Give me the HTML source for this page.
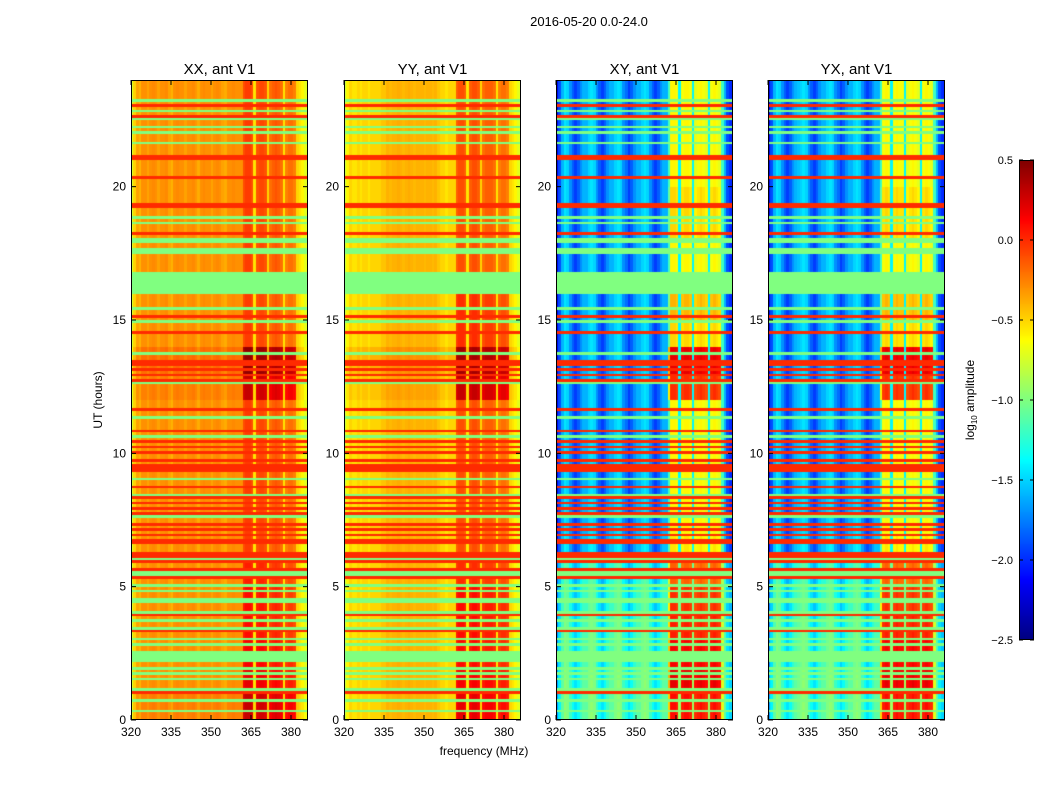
<!DOCTYPE html>
<html><head><meta charset="utf-8"><style>
body{margin:0;background:#fff;width:1050px;height:800px;overflow:hidden;position:relative;font-family:"Liberation Sans",sans-serif}
canvas{position:absolute}
svg{position:absolute;left:0;top:0}
</style></head><body>
<div>
<canvas id="c0" width="177" height="640" style="left:131px;top:80px"></canvas>
<canvas id="c1" width="177" height="640" style="left:344px;top:80px"></canvas>
<canvas id="c2" width="177" height="640" style="left:556px;top:80px"></canvas>
<canvas id="c3" width="177" height="640" style="left:768px;top:80px"></canvas>
<canvas id="cb" width="15" height="480" style="left:1019px;top:160px"></canvas>
<svg id="ov" width="1050" height="800"></svg>
</div>
<script>
const panelTitles=["XX, ant V1","YY, ant V1","XY, ant V1","YX, ant V1"];
const xTicks=[320,335,350,365,380];
const yTicks=[0,5,10,15,20];
const cbTicks=[0.5,0.0,-0.5,-1.0,-1.5,-2.0,-2.5];
const gapFreqs=[366,371,377];
const colXX=[-0.75,-0.5,-0.35,-0.4,-0.3,-0.3,-0.35,-0.3,-0.28,-0.3,-0.35,-0.3,-0.3,-0.28,-0.35,-0.4,-0.3,-0.28,-0.3,-0.3,-0.35,-0.3,-0.3,-0.28,-0.32,-0.38,-0.3,-0.28,-0.3,-0.3,-0.35,-0.3,-0.28,-0.3,-0.35,-0.38,-0.3,-0.3,-0.28,-0.3,-0.3,-0.3,-0.1,-0.05,-0.05,-0.1,-0.55,-0.12,-0.08,-0.08,-0.12,-0.5,-0.2,-0.15,-0.12,-0.15,-0.2,-0.55,-0.25,-0.2,-0.2,-0.25,-0.5,-0.55,-0.6,-0.7,-0.8];
const colYY=[-0.8,-0.6,-0.5,-0.55,-0.55,-0.5,-0.55,-0.5,-0.5,-0.55,-0.5,-0.5,-0.5,-0.5,-0.45,-0.45,-0.4,-0.42,-0.4,-0.4,-0.38,-0.4,-0.42,-0.4,-0.38,-0.4,-0.42,-0.4,-0.4,-0.4,-0.42,-0.4,-0.4,-0.42,-0.4,-0.45,-0.5,-0.5,-0.55,-0.5,-0.5,-0.5,-0.15,-0.1,-0.1,-0.15,-0.55,-0.15,-0.1,-0.1,-0.15,-0.5,-0.2,-0.15,-0.15,-0.15,-0.2,-0.55,-0.25,-0.2,-0.2,-0.25,-0.5,-0.55,-0.6,-0.7,-0.8];
const colXY=[-2.2,-1.9,-1.6,-1.45,-1.5,-1.7,-1.85,-1.95,-1.85,-1.7,-1.6,-1.6,-1.5,-1.45,-1.5,-1.7,-1.85,-1.95,-1.85,-1.7,-1.6,-1.6,-1.5,-1.45,-1.5,-1.7,-1.8,-1.95,-1.85,-1.7,-1.6,-1.6,-1.5,-1.45,-1.5,-1.7,-1.85,-1.95,-1.85,-1.7,-1.6,-1.6,-1.2,-0.6,-0.6,-0.65,-1.4,-0.65,-0.6,-0.6,-0.65,-1.4,-0.7,-0.65,-0.6,-0.65,-0.7,-1.4,-0.65,-0.6,-0.65,-0.7,-1.2,-1.6,-1.9,-2.0,-2.2];
const colYX=[-2.2,-1.9,-1.6,-1.45,-1.5,-1.7,-1.85,-1.95,-1.85,-1.7,-1.6,-1.55,-1.5,-1.45,-1.5,-1.7,-1.85,-1.95,-1.85,-1.7,-1.6,-1.6,-1.5,-1.45,-1.5,-1.7,-1.8,-1.95,-1.85,-1.7,-1.6,-1.6,-1.5,-1.45,-1.5,-1.7,-1.85,-1.95,-1.85,-1.7,-1.6,-1.6,-1.2,-0.65,-0.6,-0.65,-1.4,-0.65,-0.6,-0.65,-0.65,-1.4,-0.7,-0.65,-0.6,-0.65,-0.7,-1.4,-0.65,-0.6,-0.65,-0.7,-1.2,-1.6,-1.9,-2.0,-2.2];
const hourXX=[0.05,0,0,0,0,0,0,0,0,0,0,0,0.05,0.1,0,0,0,0,0,0,0,0,0,0];
const hourYY=[0,0,0,0,0,0,0,0,0,0,0,0,0.05,0.1,0,0,0,0,0,0,0,0,0,0];
const hourXY=[0.5,0.5,0.45,0.45,0.4,0.35,0.05,0,0,0,0,0,0,0,0,0,0,0,0,0,0,0,0,0];
const hourYX=[0.5,0.5,0.45,0.45,0.4,0.35,0.05,0,0,0,0,0,0,0,0,0,0,0,0,0,0,0,0,0];
const boostXX=[0.3,0.25,0.2,0.15,0.15,0.1,0,0,0,0,0,0,0.3,0.4,0,0,0,0,0,0,0,0,0,0];
const boostYY=[0.3,0.25,0.2,0.2,0.2,0.1,0,0,0,0,0,0,0.35,0.4,0.1,0.1,0,0,0,0,0,0,0,0];
const boostXY=[0.2,0.3,0.3,0.2,0.2,0.1,0,0,0,0,0,0,0.6,0.8,0.1,0.2,0,0,0.1,0.1,0,0,0,0];
const boostYX=[0.2,0.3,0.3,0.2,0.2,0.1,0,0,0,0,0,0,0.6,0.8,0.1,0.2,0,0,0.1,0.1,0,0,0,0];
const greenRows=[0.3,0.55,0.75,1.1,1.5,1.7,1.95,2.25,2.3,2.45,2.5,2.8,3.0,3.4,3.75,4.05,4.4,4.5,4.8,5.0,5.45,6.0,7.6,8.4,9.0,10.6,11.3,12.6,13.7,14.9,15.4,17.5,17.6,17.9,18.0,18.6,18.8,21.6,22.0,22.2,22.5,22.8,23.2];
const redRows=[1.0,1.12,2.25,3.3,3.9,5.3,5.45,5.6,5.9,6.1,6.25,6.65,6.75,6.9,7.1,7.35,7.7,7.9,8.1,8.35,8.7,9.3,9.4,9.5,9.75,10.0,10.2,10.4,10.8,11.6,12.7,12.9,13.1,13.3,13.4,13.7,14.5,15.1,18.2,19.2,19.3,20.3,21.0,21.1,22.6,23.0,23.25];
const greenBlock=[15.95,16.75];
const panelCols=[colXX,colYY,colXY,colYX];
const panelHours=[hourXX,hourYY,hourXY,hourYX];
const panelBoost=[boostXX,boostYY,boostXY,boostYX];
const panelLeft=[131,344,556,768];
const W=177,H=640,T=80;
function xs(f){return (f-320)*160/60;}
function ys(h){return H-h*H/24;}
function cl(v){return Math.max(0,Math.min(1,v));}
function jet(v){const x=cl((v+2.5)/3);return `rgb(${Math.round(255*cl(1.5-Math.abs(4*x-3)))},${Math.round(255*cl(1.5-Math.abs(4*x-2)))},${Math.round(255*cl(1.5-Math.abs(4*x-1)))})`;}
function hasRow(list,h){return list.some(t=>Math.abs(t-h)<0.05);}
for(let p=0;p<4;p++){
  const ctx=document.getElementById('c'+p).getContext('2d');
  const cols=panelCols[p],hrs=panelHours[p],bst=panelBoost[p];
  for(let r=0;r<240;r++){
    const h=r*0.1,hi=Math.floor(h);
    const y0=Math.floor(ys(h+0.1)),y1=Math.ceil(ys(h));
    let flag=null;
    if(h>=greenBlock[0]-0.01&&h<greenBlock[1])flag=-1.0;
    else if(hasRow(greenRows,h))flag=-1.0;
    else if(hasRow(redRows,h))flag=0.0;
    for(let c=0;c<cols.length;c++){
      const f=320+c;
      let v;
      if(flag!==null)v=flag;
      else{v=cols[c]+hrs[hi];if(f>=362&&f<382&&gapFreqs.indexOf(f)<0)v+=bst[hi];}
      ctx.fillStyle=jet(v);
      const x0=Math.floor(xs(f)),x1=Math.ceil(xs(f+1));
      ctx.fillRect(x0,y0,x1-x0,y1-y0);
    }
  }
}
const cb=document.getElementById('cb').getContext('2d');
for(let y=0;y<480;y++){cb.fillStyle=jet(0.5-3*(y+0.5)/480);cb.fillRect(0,y,15,1);}
const ov=document.getElementById('ov');
const NS='http://www.w3.org/2000/svg';
function mk(tag,attrs,name,text){const e=document.createElementNS(NS,tag);for(const k in attrs)e.setAttribute(k,attrs[k]);


if(text!==undefined)e.textContent=text;ov.appendChild(e);return e;}
mk('text',{x:589,y:26,'font-size':13,'text-anchor':'middle'},'figure-title','2016-05-20 0.0-24.0');
for(let p=0;p<4;p++){
  const L=panelLeft[p];
  mk('rect',{x:L+0.5,y:T+0.5,width:W-1,height:H-1,fill:'none',stroke:'#000','stroke-width':1},'panel-frame');
  mk('text',{x:L+W/2,y:74,'font-size':15,'text-anchor':'middle'},'panel-title',panelTitles[p]);
  xTicks.forEach(t=>{const x=L+xs(t);
    mk('line',{x1:x,y1:T+H,x2:x,y2:T+H-5,stroke:'#000'},'x-tick');
    mk('line',{x1:x,y1:T,x2:x,y2:T+5,stroke:'#000'},'x-tick-top');
    mk('text',{x:x,y:T+H+16,'font-size':12,'text-anchor':'middle'},'x-tick-label',String(t));});
  yTicks.forEach(t=>{const y=T+ys(t);
    mk('line',{x1:L,y1:y,x2:L+5,y2:y,stroke:'#000'},'y-tick');
    mk('line',{x1:L+W,y1:y,x2:L+W-5,y2:y,stroke:'#000'},'y-tick-right');
    mk('text',{x:L-5,y:y+4,'font-size':12,'text-anchor':'end'},'y-tick-label',String(t));});
}
mk('text',{x:484,y:755,'font-size':12,'text-anchor':'middle'},'x-axis-title','frequency (MHz)');
mk('text',{x:102,y:400,'font-size':12,'text-anchor':'middle',transform:'rotate(-90 102 400)'},'y-axis-title','UT (hours)');
mk('rect',{x:1019.5,y:160.5,width:14,height:479,fill:'none',stroke:'#000'},'colorbar-frame');
cbTicks.forEach(t=>{const y=160+(0.5-t)/3*480;
  mk('line',{x1:1019,y1:y,x2:1023,y2:y,stroke:'#000'},'colorbar-tick');
  mk('line',{x1:1034,y1:y,x2:1030,y2:y,stroke:'#000'},'colorbar-tick-right');
  mk('text',{x:1013,y:y+4,'font-size':11,'text-anchor':'end'},'colorbar-tick-label',(t<0?'\u2212':'')+Math.abs(t).toFixed(1));});
const lab=mk('text',{x:974,y:400,'font-size':12,'text-anchor':'middle',transform:'rotate(-90 974 400)'},'colorbar-label');
lab.innerHTML='log<tspan font-size="8" dy="3">10</tspan><tspan dy="-3"> amplitude</tspan>';
</script>
</body></html>
